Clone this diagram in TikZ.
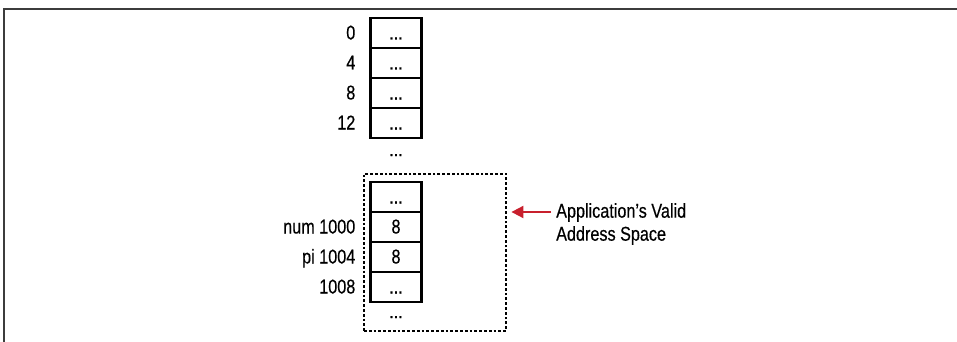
\documentclass[tikz,border=0pt]{standalone}
\usepackage{fontspec}
\setmainfont{Liberation Sans}[FakeStretch=0.81, FakeBold=0.4]
\usetikzlibrary{positioning, arrows.meta}
\definecolor{PointerRed}{RGB}{200,32,45}
\definecolor{FrameGray}{RGB}{60,60,60}
\tikzset{
  cell/.style={draw, line width=2.3pt, minimum width=51pt, minimum height=30pt, inner sep=0pt,
    outer sep=0pt, text height=13pt, text depth=0pt, font=\fontsize{20}{23}\selectfont},
  addr/.style={inner sep=0pt, text height=13pt, text depth=0pt, font=\fontsize{20}{23}\selectfont},
  gapdots/.style={inner sep=0pt, text height=13pt, text depth=0pt, font=\fontsize{20}{23}\selectfont},
  validbox/.style={draw, line width=2.8pt, dash pattern=on 2.8pt off 2pt, minimum width=142pt,
    minimum height=157pt, inner sep=0pt},
  arr/.style={-{Triangle[length=12pt, width=12pt]}, line width=2pt, PointerRed},
  note/.style={align=left, inner sep=0pt, font=\fontsize{20}{23}\selectfont},
}
\begin{document}
\begin{tikzpicture}[x=1pt, y=-1pt]
  \useasboundingbox (0,0) rectangle (957,342);
  % page frame
  \coordinate (frameBL) at (4,342);
  \coordinate (frameTL) at (4,9);
  \coordinate (frameTR) at (957,9);
  \draw[FrameGray, line width=1.3pt] (frameBL) -- (frameTL) -- (frameTR);

  % low addresses
  \node[cell] (c0) at (396,33) {...};
  \node[cell, below=0pt of c0] (c1) {...};
  \node[cell, below=0pt of c1] (c2) {...};
  \node[cell, below=0pt of c2] (c3) {...};
  \node[addr, left=15pt of c0] (a0) {0};
  \node[addr, left=15pt of c1] (a1) {4};
  \node[addr, left=15pt of c2] (a2) {8};
  \node[addr, left=15pt of c3] (a3) {12};
  \node[gapdots, below=5pt of c3] (skip1) {...};

  % valid region
  \node[validbox] (vbox) at (435,252.5) {};
  \node[cell] (d0) at (396,197) {...};
  \node[cell, below=0pt of d0] (d1) {8};
  \node[cell, below=0pt of d1] (d2) {8};
  \node[cell, below=0pt of d2] (d3) {...};
  \node[addr, left=15pt of d1] (b1) {num 1000};
  \node[addr, left=15pt of d2] (b2) {pi 1004};
  \node[addr, left=15pt of d3] (b3) {1008};
  \node[gapdots, below=3pt of d3] (skip2) {...};

  % label
  \node[note, anchor=north west] (note) at (556,203) {Application’s Valid\\Address Space};
  \coordinate (tail) at ([shift={(-5pt,-9pt)}]note.north west);
  \draw[arr, shorten >=4pt] (tail) -- (tail -| vbox.east);
\end{tikzpicture}
\end{document}
